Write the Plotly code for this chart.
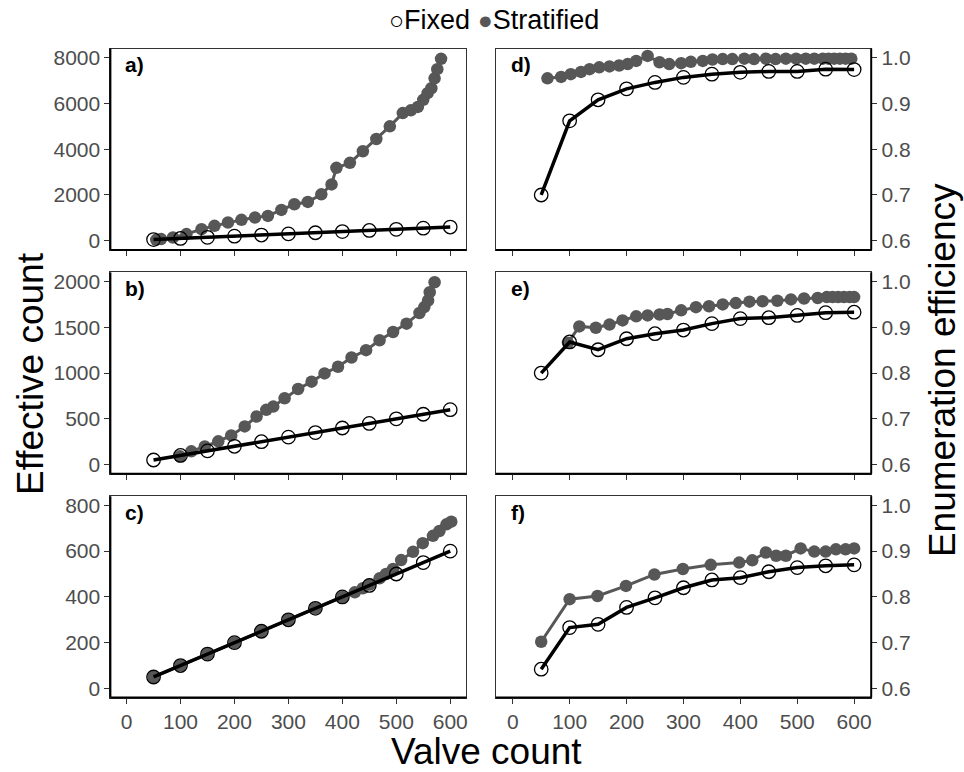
import plotly.graph_objects as go

W, H = 964, 772

# ---------------- data ----------------
fixed_x = [50, 100, 150, 200, 250, 300, 350, 400, 450, 500, 550, 600]

# effective counts, fixed design (a, b, c)
fixed_a = [50, 100, 150, 200, 250, 300, 350, 400, 450, 500, 550, 600]
fixed_b = [50, 100, 150, 200, 250, 300, 350, 400, 450, 500, 550, 600]
fixed_c = [50, 100, 150, 200, 250, 300, 350, 400, 450, 500, 550, 600]

# enumeration efficiency, fixed design (d, e, f)
fixed_d = [0.700, 0.862, 0.908, 0.932, 0.946, 0.957, 0.964, 0.968, 0.970, 0.970, 0.975, 0.974]
fixed_e = [0.800, 0.868, 0.851, 0.875, 0.886, 0.894, 0.908, 0.919, 0.921, 0.926, 0.932, 0.933]
fixed_f = [0.642, 0.733, 0.740, 0.777, 0.798, 0.820, 0.837, 0.842, 0.855, 0.864, 0.868, 0.870]

# stratified design
strat_a_x = [55, 64, 86, 111, 139, 163, 188, 213, 238, 262, 287, 311, 336, 361, 380, 389,
             414, 438, 463, 488, 512, 527, 540, 550, 558, 565, 571, 576, 583]
strat_a_y = [40, 74, 143, 290, 508, 652, 797, 913, 1014, 1087, 1348, 1594, 1696, 2029, 2464, 3188,
             3406, 3913, 4449, 5000, 5580, 5700, 5850, 6159, 6450, 6667, 7100, 7500, 7950]

strat_b_x = [99, 120, 145, 170, 194, 219, 241, 259, 272, 293, 318, 343, 367, 392, 417, 444,
             469, 494, 519, 543, 552, 559, 562, 571]
strat_b_y = [90, 145, 199, 254, 319, 417, 525, 598, 634, 725, 826, 906, 996, 1069, 1170, 1250,
             1359, 1449, 1540, 1656, 1721, 1793, 1884, 1992]

strat_c_x = [50, 100, 150, 200, 250, 300, 350, 400, 423, 438, 451, 469, 481, 494, 509, 531,
             549, 568, 580, 593, 602]
strat_c_y = [50, 100, 150, 200, 250, 300, 350, 400, 420, 438, 454, 481, 500, 522, 561, 597,
             635, 667, 688, 717, 729]

strat_d_x = [61, 85, 102, 120, 135, 152, 170, 187, 202, 217, 237, 258, 275, 296, 313, 334, 351,
             369, 386, 407, 424, 445, 462, 480, 498, 515, 530, 545, 555, 565, 575, 585, 595]
strat_d_y = [0.955, 0.958, 0.964, 0.969, 0.975, 0.979, 0.981, 0.983, 0.986, 0.993, 1.004, 0.990,
             0.986, 0.988, 0.991, 0.993, 0.996, 0.997, 0.997, 0.998, 0.997, 0.998, 0.997, 0.998,
             0.998, 0.998, 0.998, 0.998, 0.998, 0.998, 0.998, 0.998, 0.998]

strat_e_x = [97, 117, 146, 170, 193, 217, 237, 258, 272, 296, 322, 345, 369, 392, 416, 439, 465,
             489, 512, 536, 552, 562, 572, 582, 592, 600]
strat_e_y = [0.866, 0.902, 0.899, 0.906, 0.915, 0.924, 0.926, 0.928, 0.929, 0.937, 0.944, 0.946,
             0.950, 0.953, 0.956, 0.957, 0.958, 0.961, 0.963, 0.964, 0.966, 0.966, 0.966, 0.966,
             0.966, 0.966]

strat_f_x = [50, 100, 149, 199, 249, 299, 348, 398, 421, 445, 463, 480, 506, 530, 550, 568, 585, 600]
strat_f_y = [0.702, 0.795, 0.802, 0.824, 0.849, 0.861, 0.870, 0.875, 0.880, 0.897, 0.890, 0.890,
             0.906, 0.899, 0.899, 0.904, 0.904, 0.906]

x_ticks = [0, 100, 200, 300, 400, 500, 600]
ticks_a = [0, 2000, 4000, 6000, 8000]
ticks_b = [0, 500, 1000, 1500, 2000]
ticks_c = [0, 200, 400, 600, 800]
ticks_eff = [0.6, 0.7, 0.8, 0.9, 1.0]

panel_labels = ["a)", "b)", "c)", "d)", "e)", "f)"]

# ---------------- layout geometry ----------------
FONT = "Liberation Sans, Arial, sans-serif"
GREY = "#575757"
TICKGREY = "#4d4d4d"

xl = [110.5 / W, 466.9 / W]
xr = [496.2 / W, 872.1 / W]
rows_px = [(46.8, 249.2), (271.8, 474.2), (496.8, 699.2)]
ydom = [[1 - b / H, 1 - t / H] for t, b in rows_px]

panels = [
    (xl, ydom[0], "left", ticks_a, [-400, 8400], fixed_x, fixed_a, strat_a_x, strat_a_y, panel_labels[0], False),
    (xr, ydom[0], "right", ticks_eff, [0.58, 1.02], fixed_x, fixed_d, strat_d_x, strat_d_y, panel_labels[3], False),
    (xl, ydom[1], "left", ticks_b, [-100, 2100], fixed_x, fixed_b, strat_b_x, strat_b_y, panel_labels[1], False),
    (xr, ydom[1], "right", ticks_eff, [0.58, 1.02], fixed_x, fixed_e, strat_e_x, strat_e_y, panel_labels[4], False),
    (xl, ydom[2], "left", ticks_c, [-40, 840], fixed_x, fixed_c, strat_c_x, strat_c_y, panel_labels[2], True),
    (xr, ydom[2], "right", ticks_eff, [0.58, 1.02], fixed_x, fixed_f, strat_f_x, strat_f_y, panel_labels[5], True),
]

fig = go.Figure()
layout = dict(
    width=W, height=H,
    margin=dict(l=0, r=0, t=0, b=0),
    paper_bgcolor="white", plot_bgcolor="white",
    showlegend=False,
    font=dict(family=FONT, color="black"),
)
annotations = []
shapes = []

for i, (xd, yd, side, yt, yr, fx, fy, sx, sy, lab, showx) in enumerate(panels):
    n = i + 1
    xa = "x" if n == 1 else f"x{n}"
    ya = "y" if n == 1 else f"y{n}"
    xkey = "xaxis" if n == 1 else f"xaxis{n}"
    ykey = "yaxis" if n == 1 else f"yaxis{n}"

    # stratified
    fig.add_trace(go.Scatter(
        x=sx, y=sy, mode="lines+markers", xaxis=xa, yaxis=ya,
        line=dict(color=GREY, width=3),
        marker=dict(color=GREY, size=12.5, line=dict(width=0)),
        name="Stratified", hoverinfo="x+y"))
    # fixed
    fig.add_trace(go.Scatter(
        x=fx, y=fy, mode="lines+markers", xaxis=xa, yaxis=ya,
        line=dict(color="black", width=3.5),
        marker=dict(symbol="circle-open", color="black", size=13.5, line=dict(width=1.3)),
        name="Fixed", hoverinfo="x+y"))

    is_eff = side == "right"
    layout[xkey] = dict(
        domain=xd, anchor=ya, range=[-30, 630],
        tickmode="array", tickvals=x_ticks,
        ticktext=[str(v) for v in x_ticks] if showx else [""] * len(x_ticks),
        ticks="outside", ticklen=5, tickwidth=1, tickcolor="#333333",
        tickfont=dict(family=FONT, size=21, color=TICKGREY),
        showgrid=False, zeroline=False,
        showline=True, mirror=True, linecolor="#333333", linewidth=1,
    )
    layout[ykey] = dict(
        domain=yd, anchor=xa, side=side, range=yr,
        tickmode="array", tickvals=yt,
        ticktext=[f"{v:.1f}" for v in yt] if is_eff else [str(v) for v in yt],
        ticks="outside", ticklen=5, tickwidth=1, tickcolor="#333333",
        tickfont=dict(family=FONT, size=21, color=TICKGREY),
        showgrid=False, zeroline=False,
        showline=True, mirror=True, linecolor="#333333", linewidth=1,
    )
    dref_x = f"{xa} domain"
    dref_y = f"{ya} domain"
    shapes.append(dict(type="line", xref=dref_x, yref=dref_y, x0=0, x1=1, y0=0, y1=0,
                       line=dict(color="black", width=2)))
    xs = 0 if side == "left" else 1
    shapes.append(dict(type="line", xref=dref_x, yref=dref_y, x0=xs, x1=xs, y0=0, y1=1,
                       line=dict(color="black", width=2)))
    annotations.append(dict(
        text=f"<b>{lab}</b>", xref=dref_x, yref=dref_y, x=0.035, y=0.92,
        xanchor="left", yanchor="middle", showarrow=False,
        font=dict(family=FONT, size=21, color="black")))

# axis titles
annotations.append(dict(text="Effective count", xref="paper", yref="paper",
                        x=30 / W, y=1 - 373 / H, textangle=-90, showarrow=False,
                        xanchor="center", yanchor="middle",
                        font=dict(family=FONT, size=37, color="black")))
annotations.append(dict(text="Enumeration efficiency", xref="paper", yref="paper",
                        x=943 / W, y=1 - 370 / H, textangle=-90, showarrow=False,
                        xanchor="center", yanchor="middle",
                        font=dict(family=FONT, size=37, color="black")))
annotations.append(dict(text="Valve count", xref="paper", yref="paper",
                        x=487 / W, y=1 - 753 / H, showarrow=False,
                        xanchor="center", yanchor="middle",
                        font=dict(family=FONT, size=37, color="black")))
# legend
annotations.append(dict(
    text=(f"<span style='font-size:25px'>○</span>Fixed "
          f"<span style='font-size:25px;color:{GREY}'>●</span>Stratified"),
    xref="paper", yref="paper", x=495 / W, y=1 - 18 / H, showarrow=False,
    xanchor="center", yanchor="middle",
    font=dict(family=FONT, size=27, color="black")))

layout["annotations"] = annotations
layout["shapes"] = shapes
fig.update_layout(**layout)
fig.write_html("out.html", config={"displayModeBar": False},
               post_script="document.body.style.margin='0';document.body.style.overflow='hidden';")
